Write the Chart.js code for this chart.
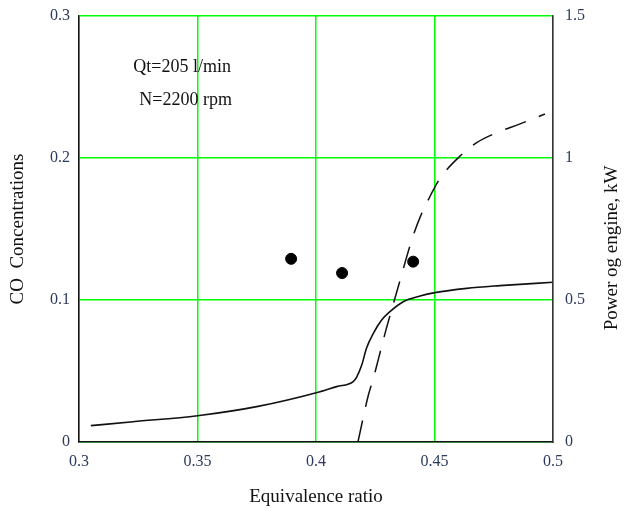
<!DOCTYPE html>
<html>
<head>
<meta charset="utf-8">
<script src="https://cdn.jsdelivr.net/npm/chart.js@4"></script>
<style>
  html, body { margin: 0; padding: 0; background: #fff; }
  #wrap { width: 626px; height: 512px; }
</style>
</head>
<body>
<div id="wrap"><canvas id="chart" width="626" height="512"></canvas></div>
<script>
// CO concentration curve (left axis)
const coPhi = [0.305, 0.3228, 0.35, 0.375, 0.4017, 0.4087, 0.4157, 0.4171, 0.4193, 0.4213, 0.4242, 0.4277, 0.4312, 0.4368, 0.4439, 0.4502, 0.4636, 0.4776, 0.5];
const coVal = [0.0115, 0.0143, 0.0185, 0.0249, 0.0354, 0.039, 0.0425, 0.0455, 0.0542, 0.066, 0.0765, 0.0859, 0.0918, 0.0988, 0.1028, 0.1052, 0.1082, 0.1101, 0.1125];

// engine power curve, kW (right axis)
const powPhi = [0.4177, 0.422, 0.4242, 0.4263, 0.4295, 0.4319, 0.4343, 0.4404, 0.4439, 0.4488, 0.4523, 0.4608, 0.4678, 0.4762, 0.4861, 0.4966];
const powVal = [0, 0.162, 0.224, 0.291, 0.394, 0.465, 0.535, 0.711, 0.791, 0.876, 0.928, 1.007, 1.054, 1.089, 1.12, 1.155];

// measured CO points
const dotPhi = [0.3895, 0.411, 0.441];
const dotVal = [0.129, 0.119, 0.127];

const xTicks = [0.3, 0.35, 0.4, 0.45, 0.5];
const notes = ["Qt=205 l/min", "N=2200 rpm"];
const rightTitle = "Power og engine, kW";

const serif = '"Liberation Serif", "Times New Roman", serif';
const gridGreen = "#00ff00";
const tickColor = "#2b3a5c";

const pairs = (xs, ys) => xs.map((x, i) => ({ x: x, y: ys[i] }));
const fmt = v => String(+(+v).toFixed(2));
// fixed box sizes so the plot area sits where the original one does
const fixWidth = w => s => { s.width = w; s.paddingTop = 0; s.paddingBottom = 0; };

// text notes + right axis title (reads bottom-to-top, which chart.js can't do on the right side)
const notesPlugin = {
  id: "notes",
  afterDraw(chart) {
    const { ctx, scales } = chart;
    ctx.save();
    ctx.font = "18px " + serif;
    ctx.fillStyle = "#111";
    ctx.textAlign = "center";
    ctx.textBaseline = "middle";
    ctx.fillText(notes[0], scales.x.getPixelForValue(0.3435), scales.y.getPixelForValue(0.264));
    ctx.fillText(notes[1], scales.x.getPixelForValue(0.345), scales.y.getPixelForValue(0.241));

    const ax = scales.y2;
    ctx.font = "19px " + serif;
    ctx.translate(ax.right - 14, (ax.top + ax.bottom) / 2 + 19);
    ctx.rotate(-Math.PI / 2);
    ctx.fillText(rightTitle, 0, 0);
    ctx.restore();
  }
};

new Chart(document.getElementById("chart"), {
  type: "scatter",
  data: {
    datasets: [
      {
        label: "CO",
        data: pairs(coPhi, coVal),
        yAxisID: "y",
        showLine: true,
        borderColor: "#111",
        borderWidth: 1.6,
        pointRadius: 0,
        cubicInterpolationMode: "monotone"
      },
      {
        label: "Power",
        data: pairs(powPhi, powVal),
        yAxisID: "y2",
        showLine: true,
        borderColor: "#111",
        borderWidth: 1.5,
        borderDash: [22, 14],
        pointRadius: 0,
        cubicInterpolationMode: "monotone"
      },
      {
        label: "Measured",
        data: pairs(dotPhi, dotVal),
        yAxisID: "y",
        showLine: false,
        pointRadius: 5.5,
        pointBackgroundColor: "#000",
        pointBorderColor: "#000"
      }
    ]
  },
  options: {
    responsive: false,
    animation: false,
    layout: { padding: { top: 16, left: 0, right: 0, bottom: 0 } },
    plugins: {
      legend: { display: false },
      tooltip: { enabled: false }
    },
    scales: {
      x: {
        type: "linear",
        min: 0.3,
        max: 0.5,
        afterFit: s => { s.height = 70; s.paddingLeft = 0; s.paddingRight = 0; },
        afterBuildTicks: s => { s.ticks = xTicks.map(v => ({ value: v })); },
        ticks: { color: tickColor, font: { family: serif, size: 16 }, padding: 10, callback: fmt },
        grid: { color: gridGreen, lineWidth: 1.5, drawTicks: false },
        border: { color: "#111", width: 1.5, z: 1 },
        title: { display: true, text: "Equivalence ratio", color: "#111", font: { family: serif, size: 19 }, padding: { top: 0, bottom: 4 } }
      },
      y: {
        position: "left",
        min: 0,
        max: 0.3,
        afterFit: fixWidth(79),
        ticks: { stepSize: 0.1, color: tickColor, font: { family: serif, size: 16 }, padding: 9, callback: fmt },
        grid: { color: gridGreen, lineWidth: 1.5, drawTicks: false },
        border: { color: "#111", width: 1.5, z: 1 },
        title: { display: true, text: "CO  Concentrations", color: "#111", font: { family: serif, size: 19 }, padding: { top: 7, bottom: 0 } }
      },
      y2: {
        position: "right",
        min: 0,
        max: 1.5,
        afterFit: fixWidth(73),
        ticks: { stepSize: 0.5, color: tickColor, font: { family: serif, size: 16 }, padding: 12, callback: fmt },
        grid: { drawOnChartArea: false, drawTicks: false },
        border: { color: "#333", width: 1.5, z: 1 },
        title: { display: false }
      }
    }
  },
  plugins: [notesPlugin]
});
</script>
</body>
</html>
